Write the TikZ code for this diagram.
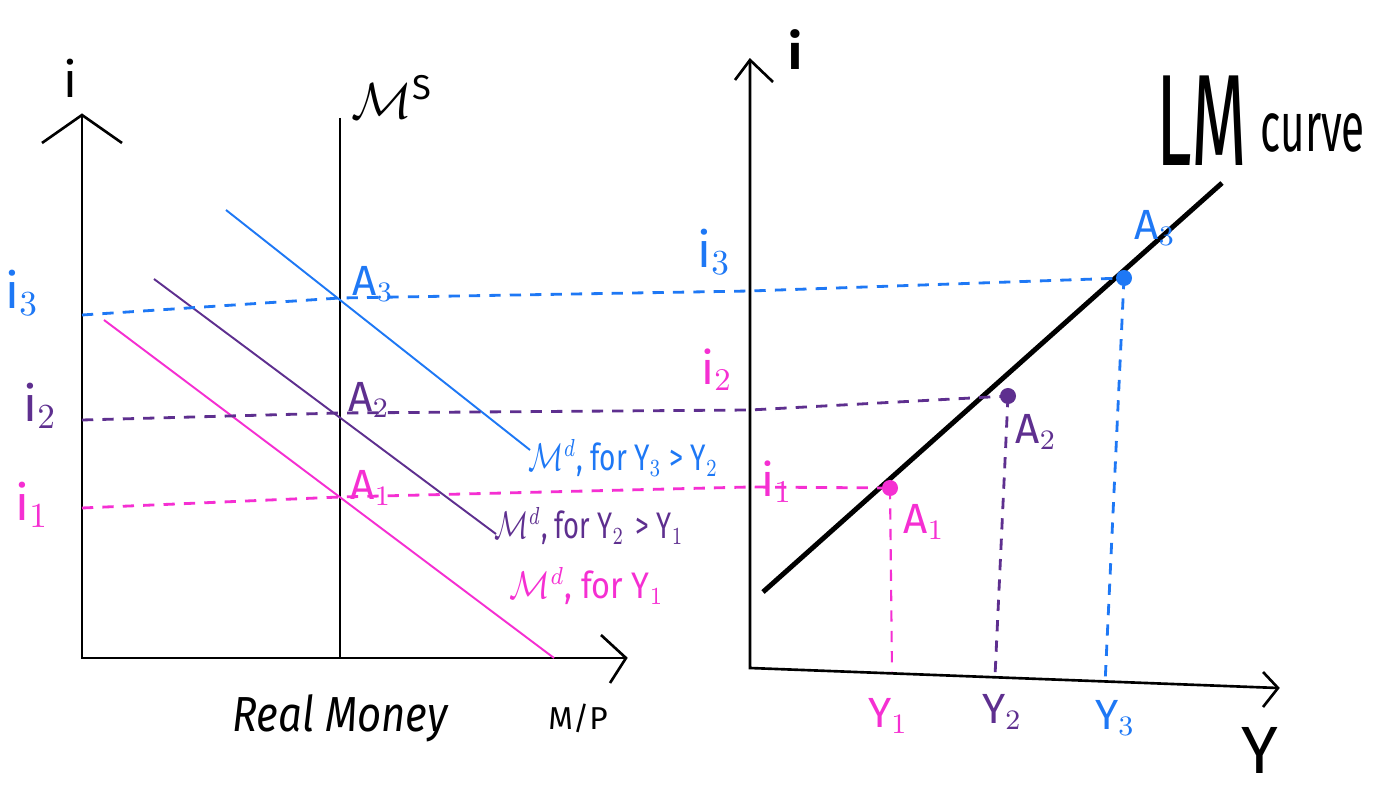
\documentclass[tikz,border=0pt]{standalone}
\usepackage{fontspec}
\usepackage{graphicx}
\setmainfont{Fira Sans}
\definecolor{cblue}{HTML}{1E78F5}
\definecolor{cpurple}{HTML}{5E2F8F}
\definecolor{cpink}{HTML}{F52FD2}
\newcommand{\sqz}[2]{\scalebox{#1}[1]{#2}}
\begin{document}
\begin{tikzpicture}[x=0.01cm,y=-0.01cm,
  axis/.style={line width=0.75pt,black},
  dline/.style={line width=0.55pt},
  guide/.style={line width=0.8pt,dash pattern=on 3.2pt off 2.6pt},
  lbl/.style={inner sep=0pt,font=\fontsize{12}{14}\selectfont},
  mdl/.style={inner sep=0pt,font=\fontsize{10.5}{12}\selectfont},
  big/.style={inner sep=0pt,font=\fontsize{14}{16}\selectfont},
  dot/.style={circle,inner sep=0pt,minimum size=0.16cm}]
\useasboundingbox (0,0) rectangle (1380,798);
% ---------- left panel ----------
\coordinate (O1) at (82,658);
\coordinate (T1) at (82,115);
\coordinate (T1a) at (42,143);
\coordinate (T1b) at (122,143);
\coordinate (R1) at (626,658);
\coordinate (R1a) at (601,635);
\coordinate (R1b) at (610,683);
\draw[axis] (T1) -- (O1) -- (R1);
\draw[axis] (T1a) -- (T1) -- (T1b);
\draw[axis] (R1a) -- (R1) -- (R1b);
\coordinate (MsTop) at (340,118);
\coordinate (MsBot) at (340,658);
\draw[axis,line width=0.6pt] (MsTop) -- (MsBot);
\node[big] (iL) at (70,78) {i};
\node[big] (Ms) at (392,97) {$\mathcal{M}^{\mathrm{S}}$};
% demand lines
\coordinate (Bs) at (226,210); \coordinate (Be) at (530,450);
\coordinate (Ps) at (154,279); \coordinate (Pe) at (496,534);
\coordinate (Ks) at (104,320); \coordinate (Ke) at (554,658);
\draw[dline,cblue] (Bs) -- (Be);
\draw[dline,cpurple] (Ps) -- (Pe);
\draw[dline,cpink] (Ks) -- (Ke);
\node[mdl,cblue,anchor=west] (MdB) at (528,458) {\sqz{0.76}{$\mathcal{M}^d$, for Y$_3$ > Y$_2$}};
\node[mdl,cpurple,anchor=west] (MdP) at (494,526) {\sqz{0.74}{$\mathcal{M}^d$, for Y$_2$\, > Y$_1$}};
\node[mdl,cpink,anchor=west] (MdK) at (509,586) {\sqz{0.88}{$\mathcal{M}^d$, for Y$_1$}};
% equilibria on Ms
\coordinate (E3) at (340,298);
\coordinate (E2) at (340,413);
\coordinate (E1) at (340,497);
\node[lbl,cblue,anchor=west] (A3L) at (352,284) {A$_3$};
\node[lbl,cpurple,anchor=west] (A2L) at (348,400) {A$_2$};
\node[lbl,cpink,anchor=west] (A1L) at (350,488) {A$_1$};
\node[lbl,font=\fontsize{14}{16}\selectfont,cblue] (i3L) at (22,293) {i$_3$};
\node[lbl,font=\fontsize{14}{16}\selectfont,cpurple] (i2L) at (40,406) {i$_2$};
\node[lbl,font=\fontsize{14}{16}\selectfont,cpink] (i1L) at (32,505) {i$_1$};
\node[inner sep=0pt,font=\fontsize{14}{17}\selectfont\itshape] (RM) at (340,718) {\sqz{0.85}{Real Money}};
\node[lbl,font=\fontsize{9}{11}\selectfont] (MP) at (578,718) {M/P};
% ---------- right panel ----------
\coordinate (O2) at (750,668);
\coordinate (T2) at (750,60);
\coordinate (T2a) at (735,80);
\coordinate (T2b) at (773,82);
\coordinate (R2) at (1278,688);
\coordinate (R2a) at (1263,672);
\coordinate (R2b) at (1263,707);
\draw[axis] (T2) -- (O2) -- (R2);
\draw[axis] (T2a) -- (T2) -- (T2b);
\draw[axis] (R2a) -- (R2) -- (R2b);
\node[big,font=\bfseries\fontsize{14}{16}\selectfont] (iR) at (795,50) {i};
\coordinate (LMs) at (763,592);
\coordinate (LMe) at (1222,183);
\draw[line width=1.4pt] (LMs) -- (LMe);
\node[inner sep=0pt,font=\fontsize{37}{40}\selectfont,anchor=base west] (LM) at (1156,166) {\sqz{0.55}{LM}};
\node[inner sep=0pt,font=\fontsize{20}{22}\selectfont,anchor=base west] (curve) at (1260,152) {\sqz{0.6}{curve}};
\node[dot,fill=cblue] (P3) at (1124,278) {};
\node[dot,fill=cpurple] (P2) at (1008,396) {};
\node[dot,fill=cpink] (P1) at (890,488) {};
\node[lbl,cblue] (A3R) at (1155,228) {A$_3$};
\node[lbl,cpurple] (A2R) at (1036,432) {A$_2$};
\node[lbl,cpink] (A1R) at (924,522) {A$_1$};
\node[lbl,font=\fontsize{14}{16}\selectfont,cblue] (i3R) at (714,252) {i$_3$};
\node[lbl,font=\fontsize{13}{16}\selectfont,cpink] (i2R) at (717,370) {i$_2$};
\node[lbl,font=\fontsize{13}{16}\selectfont,cpink] (i1R) at (777,482) {i$_1$};
\coordinate (Y1a) at (892,672);
\coordinate (Y2a) at (995,676);
\coordinate (Y3a) at (1105,684);
\node[lbl,cpink] (Y1) at (888,716) {Y$_1$};
\node[lbl,cpurple] (Y2) at (1002,712) {Y$_2$};
\node[lbl,cblue] (Y3) at (1115,718) {Y$_3$};
\node[inner sep=0pt,font=\fontsize{19}{21}\selectfont] (Ybig) at (1260,750) {Y};
% ---------- guides ----------
\draw[guide,cblue] (O1 |- 0,315) -- (E3) -- (750,291) -- (P3.center);
\draw[guide,cpurple] (O1 |- 0,420) -- (E2) -- (750,410) -- (P2.center);
\draw[guide,cpink] (O1 |- 0,508) -- (E1) -- (750,487) -- (P1.center);
\draw[guide,cblue] (P3.center) -- (Y3a);
\draw[guide,cpurple] (P2.center) -- (Y2a);
\draw[guide,cpink,line width=0.6pt] (P1.center) -- (Y1a);
\end{tikzpicture}
\end{document}
